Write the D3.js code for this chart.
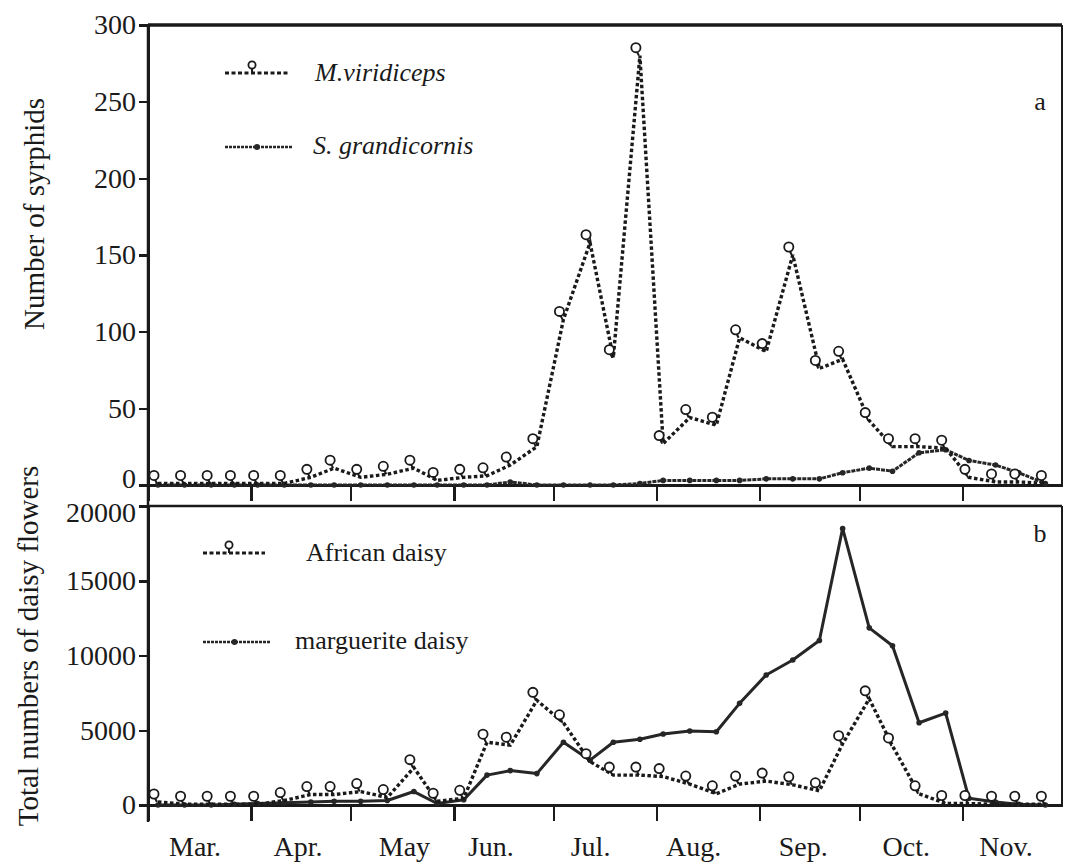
<!DOCTYPE html>
<html>
<head>
  <meta charset="utf-8" />
  <title>Syrphids and daisy flowers</title>
  <style>
    body { margin: 0; background: #fff; }
    .axis path, .axis line {
      stroke: #1a1a1a;
      stroke-width: 2.5;
      shape-rendering: crispEdges;
    }
    .axis text {
      fill: #1a1a1a;
      font-family: "Liberation Serif", "DejaVu Serif", serif;
      font-size: 28px;
    }
    text { font-family: "Liberation Serif", "DejaVu Serif", serif; fill: #1a1a1a; }
  </style>
</head>
<body>
<div id="chart"></div>
<script src="https://d3js.org/d3.v7.min.js"></script>
<script>
  // sampling dates (MM-DD)
  var sampleDates = ["03-04","03-12","03-20","03-27","04-03","04-11","04-19","04-26",
    "05-04","05-12","05-20","05-27","06-04","06-11","06-18","06-26",
    "07-04","07-12","07-19","07-27","08-03","08-11","08-19","08-26",
    "09-03","09-11","09-19","09-26","10-04","10-11","10-19","10-27",
    "11-03","11-11","11-18","11-26"];

  // panel a: number of syrphids
  var viridiceps = [1,1,1,1,1,1,5,11,5,7,11,3,5,6,13,25,
    108,158,83,280,27,44,39,96,87,150,76,82,42,25,25,24,5,2,2,1];
  var grandicornis = [0,0,0,0,0,0,0,0,0,0,0,0,0,0,2,0,
    0,0,0,1,3,3,3,3,4,4,4,8,11,9,21,23,16,13,8,1];

  // panel b: total numbers of daisy flowers
  var africanDaisy = [200,50,50,50,50,300,700,700,900,500,2500,250,450,4200,4000,7000,
    5500,2900,2000,2000,1900,1400,750,1400,1600,1350,950,4100,7100,3950,750,100,100,50,50,50];
  var margueriteDaisy = [0,0,0,50,100,150,200,250,250,300,900,100,350,2000,2300,2100,
    4200,3000,4200,4400,4750,4950,4900,6800,8700,9700,11000,18500,11850,10650,5500,6150,450,200,50,0];

  var monthStarts = ["03-01","04-01","05-01","06-01","07-01","08-01","09-01","10-01","11-01"];
  var monthLabelDates = ["03-15","04-15","05-17","06-12","07-12","08-12","09-14","10-15","11-14"];
  var monthLabels = ["Mar.","Apr.","May","Jun.","Jul.","Aug.","Sep.","Oct.","Nov."];
  var syrphidTicks = [0,50,100,150,200,250,300];
  var flowerTicks = [0,5000,10000,15000,20000];

  var parse = function (s) { return d3.timeParse("%Y-%m-%d")("1991-" + s); };

  var width = 1065, height = 868;
  var left = 148, right = 1062;

  var svg = d3.select("#chart").append("svg")
    .attr("width", width)
    .attr("height", height)
    .style("background", "#fff");

  var x = d3.scaleTime()
    .domain([parse("03-01"), parse("12-01")])
    .range([left, right]);
  var yTop = d3.scaleLinear().domain([0, 300]).range([485, 25]);
  var yBot = d3.scaleLinear().domain([0, 20000]).range([805, 506]);

  // frames
  svg.append("line").attr("x1", left).attr("x2", right).attr("y1", 25).attr("y2", 25)
    .attr("stroke", "#1a1a1a").attr("stroke-width", 3.5);
  svg.append("line").attr("x1", left).attr("x2", right).attr("y1", 506).attr("y2", 506)
    .attr("stroke", "#1a1a1a").attr("stroke-width", 2.5);
  svg.append("line").attr("x1", right).attr("x2", right).attr("y1", 25).attr("y2", 485)
    .attr("stroke", "#1a1a1a").attr("stroke-width", 2);
  svg.append("line").attr("x1", right).attr("x2", right).attr("y1", 506).attr("y2", 805)
    .attr("stroke", "#1a1a1a").attr("stroke-width", 2);
  svg.append("line").attr("x1", left).attr("x2", left).attr("y1", 25).attr("y2", 822)
    .attr("stroke", "#1a1a1a").attr("stroke-width", 2.5);

  // y axes
  svg.append("g").attr("class", "axis")
    .attr("transform", "translate(" + left + ",0)")
    .call(d3.axisLeft(yTop).tickValues(syrphidTicks).tickSize(9).tickSizeOuter(0)
      .tickPadding(3).tickFormat(d3.format("d")))
    .selectAll("text").attr("dy", function (d) { return d === 0 ? "0.08em" : "0.32em"; });
  svg.append("g").attr("class", "axis")
    .attr("transform", "translate(" + left + ",0)")
    .call(d3.axisLeft(yBot).tickValues(flowerTicks).tickSize(9).tickSizeOuter(0)
      .tickPadding(3).tickFormat(d3.format("d")))
    .selectAll("text").attr("dy", function (d) { return d === 20000 ? "0.55em" : "0.32em"; });

  // x axes (month boundaries + month names)
  [485, 805].forEach(function (yPos) {
    svg.append("g").attr("class", "axis")
      .attr("transform", "translate(0," + yPos + ")")
      .call(d3.axisBottom(x).tickValues(monthStarts.map(parse)).tickSize(16)
        .tickSizeOuter(0).tickFormat(""));
  });
  var labelAxis = svg.append("g").attr("class", "axis")
    .attr("transform", "translate(0,805)")
    .call(d3.axisBottom(x).tickValues(monthLabelDates.map(parse)).tickSize(0)
      .tickPadding(31).tickFormat(function (d, i) { return monthLabels[i]; }));
  labelAxis.select(".domain").remove();

  // axis titles
  svg.append("text")
    .attr("transform", "translate(44,214) rotate(-90)")
    .attr("text-anchor", "middle")
    .style("font-size", "29px")
    .text("Number of syrphids");
  svg.append("text")
    .attr("transform", "translate(38,646) rotate(-90)")
    .attr("text-anchor", "middle")
    .style("font-size", "29px")
    .text("Total numbers of daisy flowers");

  svg.append("text").attr("x", 1040).attr("y", 110).attr("text-anchor", "middle")
    .style("font-size", "26px").text("a");
  svg.append("text").attr("x", 1040).attr("y", 542).attr("text-anchor", "middle")
    .style("font-size", "26px").text("b");

  function series(values) {
    return values.map(function (v, i) { return { date: parse(sampleDates[i]), value: v }; });
  }

  function drawDashed(values, yScale) {
    var data = series(values);
    var line = d3.line()
      .x(function (d) { return x(d.date); })
      .y(function (d) { return yScale(d.value); });
    svg.append("path").datum(data)
      .attr("fill", "none")
      .attr("stroke", "#1a1a1a")
      .attr("stroke-width", 3.4)
      .attr("stroke-dasharray", "3.5,2.5")
      .attr("d", line);
    return data;
  }

  function drawSolid(values, yScale, dash) {
    var data = series(values);
    var line = d3.line()
      .x(function (d) { return x(d.date); })
      .y(function (d) { return yScale(d.value); });
    svg.append("path").datum(data)
      .attr("fill", "none")
      .attr("stroke", "#262626")
      .attr("stroke-width", 3)
      .attr("stroke-dasharray", dash)
      .attr("stroke-linejoin", "round")
      .attr("d", line);
    svg.selectAll(null).data(data).enter().append("circle")
      .attr("cx", function (d) { return x(d.date); })
      .attr("cy", function (d) { return yScale(d.value); })
      .attr("r", 2.8)
      .attr("fill", "#262626");
  }

  // open circle sitting on a short stem above the point
  function drawOpenMarkers(data, yScale) {
    var g = svg.append("g");
    g.selectAll("line").data(data).enter().append("line")
      .attr("x1", function (d) { return x(d.date) - 3; })
      .attr("y1", function (d) { return yScale(d.value) - 4; })
      .attr("x2", function (d) { return x(d.date) - 1; })
      .attr("y2", function (d) { return yScale(d.value); })
      .attr("stroke", "#1a1a1a").attr("stroke-width", 2);
    g.selectAll("circle").data(data).enter().append("circle")
      .attr("cx", function (d) { return x(d.date) - 4; })
      .attr("cy", function (d) { return yScale(d.value) - 8; })
      .attr("r", 4.6)
      .attr("fill", "#fff")
      .attr("stroke", "#1a1a1a")
      .attr("stroke-width", 1.8);
  }

  // panel a
  drawSolid(grandicornis, yTop, "4,1");
  var vData = drawDashed(viridiceps, yTop);
  drawOpenMarkers(vData, yTop);

  // panel b
  drawSolid(margueriteDaisy, yBot, null);
  var aData = drawDashed(africanDaisy, yBot);
  drawOpenMarkers(aData, yBot);

  // legends
  function legendDashed(x1, x2, y, label, italic) {
    svg.append("line").attr("x1", x1).attr("x2", x2).attr("y1", y).attr("y2", y)
      .attr("stroke", "#1a1a1a").attr("stroke-width", 3).attr("stroke-dasharray", "4,2.5");
    var cx = (x1 + x2) / 2 - 5;
    svg.append("line").attr("x1", cx).attr("x2", cx).attr("y1", y - 5).attr("y2", y)
      .attr("stroke", "#1a1a1a").attr("stroke-width", 2);
    svg.append("circle").attr("cx", cx).attr("cy", y - 8).attr("r", 3.6)
      .attr("fill", "#fff").attr("stroke", "#1a1a1a").attr("stroke-width", 1.8);
    svg.append("text").attr("x", label.x).attr("y", y + 8)
      .style("font-size", "26px").style("font-style", italic ? "italic" : "normal")
      .text(label.text);
  }
  function legendSolid(x1, x2, y, label, italic) {
    svg.append("line").attr("x1", x1).attr("x2", x2).attr("y1", y).attr("y2", y)
      .attr("stroke", "#262626").attr("stroke-width", 2.5).attr("stroke-dasharray", "3,1");
    svg.append("circle").attr("cx", (x1 + x2) / 2 - 2).attr("cy", y).attr("r", 3)
      .attr("fill", "#262626");
    svg.append("text").attr("x", label.x).attr("y", y + 7)
      .style("font-size", "26px").style("font-style", italic ? "italic" : "normal")
      .text(label.text);
  }

  legendDashed(225, 289, 73, { x: 315, text: "M.viridiceps" }, true);
  legendSolid(225, 293, 147, { x: 313, text: "S. grandicornis" }, true);
  legendDashed(203, 265, 553, { x: 306, text: "African daisy" }, false);
  legendSolid(203, 270, 642, { x: 295, text: "marguerite daisy" }, false);
</script>
</body>
</html>
